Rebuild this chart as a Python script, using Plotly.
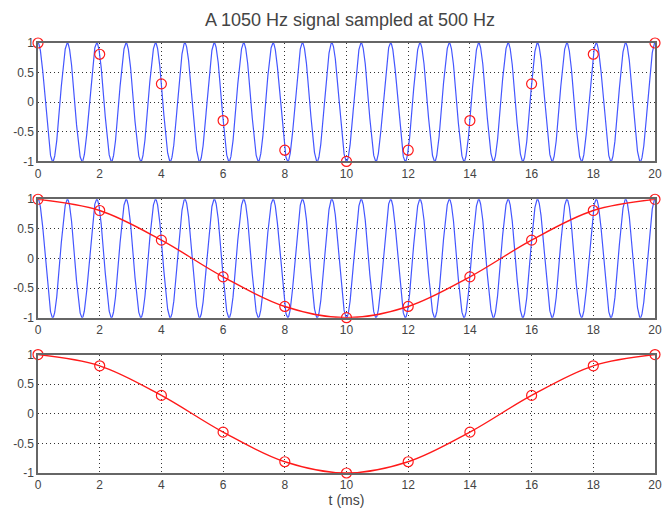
import numpy as np
import plotly.graph_objects as go
from plotly.subplots import make_subplots

# Signal parameters (stated in the title)
signal_freq_hz = 1050
sample_rate_hz = 500

# Sample instants (ms) and the sampled values
sample_t_ms = [0, 2, 4, 6, 8, 10, 12, 14, 16, 18, 20]
sample_vals = [1.0, 0.81, 0.31, -0.31, -0.81, -1.0, -0.81, -0.31, 0.31, 0.81, 1.0]

x_ticks = [0, 2, 4, 6, 8, 10, 12, 14, 16, 18, 20]
y_ticks = [-1, -0.5, 0, 0.5, 1]
y_tick_text = ["-1", "-0.5", "0", "0.5", "1"]

# Continuous 1050 Hz signal over 0..20 ms
t_cont = np.linspace(0, 20, 4001)
x_cont = np.cos(2 * np.pi * signal_freq_hz * t_cont / 1000.0)

blue = "#4456ff"
red = "#ff1a1a"

fig = make_subplots(rows=3, cols=1, shared_xaxes=False, vertical_spacing=0.0)

marker_style = dict(symbol="circle-open", size=10, color=red, line=dict(width=1.2))

# Panel 1: signal with samples
fig.add_trace(go.Scatter(x=t_cont, y=x_cont, mode="lines",
                         line=dict(color=blue, width=1.2), showlegend=False), row=1, col=1)
fig.add_trace(go.Scatter(x=sample_t_ms, y=sample_vals, mode="markers",
                         marker=marker_style, showlegend=False, cliponaxis=False), row=1, col=1)

# Panel 2: signal, samples and reconstructed alias
fig.add_trace(go.Scatter(x=t_cont, y=x_cont, mode="lines",
                         line=dict(color=blue, width=1.2), showlegend=False), row=2, col=1)
fig.add_trace(go.Scatter(x=sample_t_ms, y=sample_vals, mode="lines+markers",
                         line=dict(color=red, width=1.4, shape="spline", smoothing=1.0),
                         marker=marker_style, showlegend=False, cliponaxis=False), row=2, col=1)

# Panel 3: samples with the alias only
fig.add_trace(go.Scatter(x=sample_t_ms, y=sample_vals, mode="lines+markers",
                         line=dict(color=red, width=1.4, shape="spline", smoothing=1.0),
                         marker=marker_style, showlegend=False, cliponaxis=False), row=3, col=1)

total_h = 475 - 43
domains = [
    ((475 - 162) / total_h, 1.0),
    ((475 - 319) / total_h, (475 - 200) / total_h),
    (0.0, (475 - 356) / total_h),
]

axis_font = dict(family="Liberation Sans, Arial, sans-serif", size=12, color="#444444")
for i in range(3):
    xa = "xaxis" if i == 0 else f"xaxis{i+1}"
    ya = "yaxis" if i == 0 else f"yaxis{i+1}"
    fig.layout[xa].update(range=[0, 20], tickvals=x_ticks, showgrid=True,
                          gridcolor="#333333", griddash="1px,3px", gridwidth=1,
                          showline=True, mirror=True, linecolor="#666666", linewidth=1.5,
                          ticks="", zeroline=False, tickfont=axis_font)
    fig.layout[ya].update(range=[-1, 1], domain=list(domains[i]), tickvals=y_ticks,
                          ticktext=y_tick_text, showgrid=True,
                          gridcolor="#333333", griddash="1px,3px", gridwidth=1,
                          showline=True, mirror=True, linecolor="#666666", linewidth=1.5,
                          ticks="", zeroline=False, tickfont=axis_font)

fig.layout.xaxis3.title = dict(text="t (ms)", font=dict(family="Liberation Sans, Arial, sans-serif",
                                                        size=14, color="#444444"), standoff=2)

fig.update_layout(
    width=669, height=511,
    margin=dict(l=38, r=7, t=43, b=36),
    paper_bgcolor="white", plot_bgcolor="white",
    title=dict(text="A 1050 Hz signal sampled at 500 Hz", x=350 / 669, xanchor="center",
               y=1 - 20 / 511, yanchor="middle",
               font=dict(family="Liberation Sans, Arial, sans-serif", size=18, color="#444444")),
)

fig.write_html("out.html")
